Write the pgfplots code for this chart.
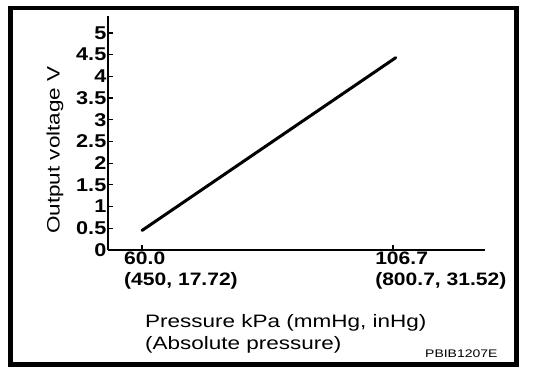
\documentclass[border=0pt]{standalone}
\usepackage{fontspec}
\usepackage{pgfplots}
\pgfplotsset{compat=1.18}
\setmainfont{Liberation Sans}
\newfontfamily\labfont[FakeStretch=1.25]{Liberation Sans}
\newfontfamily\tickfont[FakeStretch=1.17]{Liberation Sans}
\newfontfamily\codefont[FakeStretch=1.27]{Liberation Sans}
\begin{document}
\begin{tikzpicture}[x=1pt,y=1pt]
\path[use as bounding box] (0,0) rectangle (544,378);
\draw[line width=4.5pt] (10.5,13.5) rectangle (516.5,370);
\begin{axis}[
  at={(108pt,128pt)}, anchor=south west,
  scale only axis, width=377pt, height=234pt,
  xmin=53.67, xmax=123.8, ymin=0, ymax=5.39,
  axis x line=bottom, axis y line=left,
  axis line style={line width=2pt, -},
  tick align=inside, major tick length=5pt,
  tick style={line width=1.2pt, black},
  xtick={60,106.7},
  xticklabels={{60.0\\(450, 17.72)},{106.7\\(800.7, 31.52)}},
  xticklabel style={font=\tickfont\bfseries\fontsize{18}{21}\selectfont, align=left, anchor=north west, xshift=-18pt, yshift=-2pt, inner sep=0pt},
  ytick={0,0.5,1,1.5,2,2.5,3,3.5,4,4.5,5},
  yticklabels={0,0.5,1,1.5,2,2.5,3,3.5,4,4.5,5},
  yticklabel style={font=\tickfont\bfseries\fontsize{18.5}{21}\selectfont, anchor=east, inner sep=0pt, xshift=-1.5pt},
  xlabel={Pressure kPa (mmHg, inHg)\\(Absolute pressure)},
  xlabel style={font=\labfont\fontsize{18}{22}\selectfont, align=left, anchor=north west, inner sep=0pt, at={(axis description cs:0.098,-0.2756)}},
  ylabel={Output voltage V},
  ylabel style={font=\labfont\fontsize{18}{22}\selectfont, anchor=center, inner sep=0pt, at={(axis description cs:-0.1406,0.427)}},
  clip=false,
]
\addplot[line width=3pt, line cap=round, black] coordinates {(60,0.45) (107.2,4.43)};
\end{axis}
\node[anchor=base west, inner sep=0pt, font=\codefont\fontsize{11}{13}\selectfont] at (425,20) {PBIB1207E};
\end{tikzpicture}
\end{document}
